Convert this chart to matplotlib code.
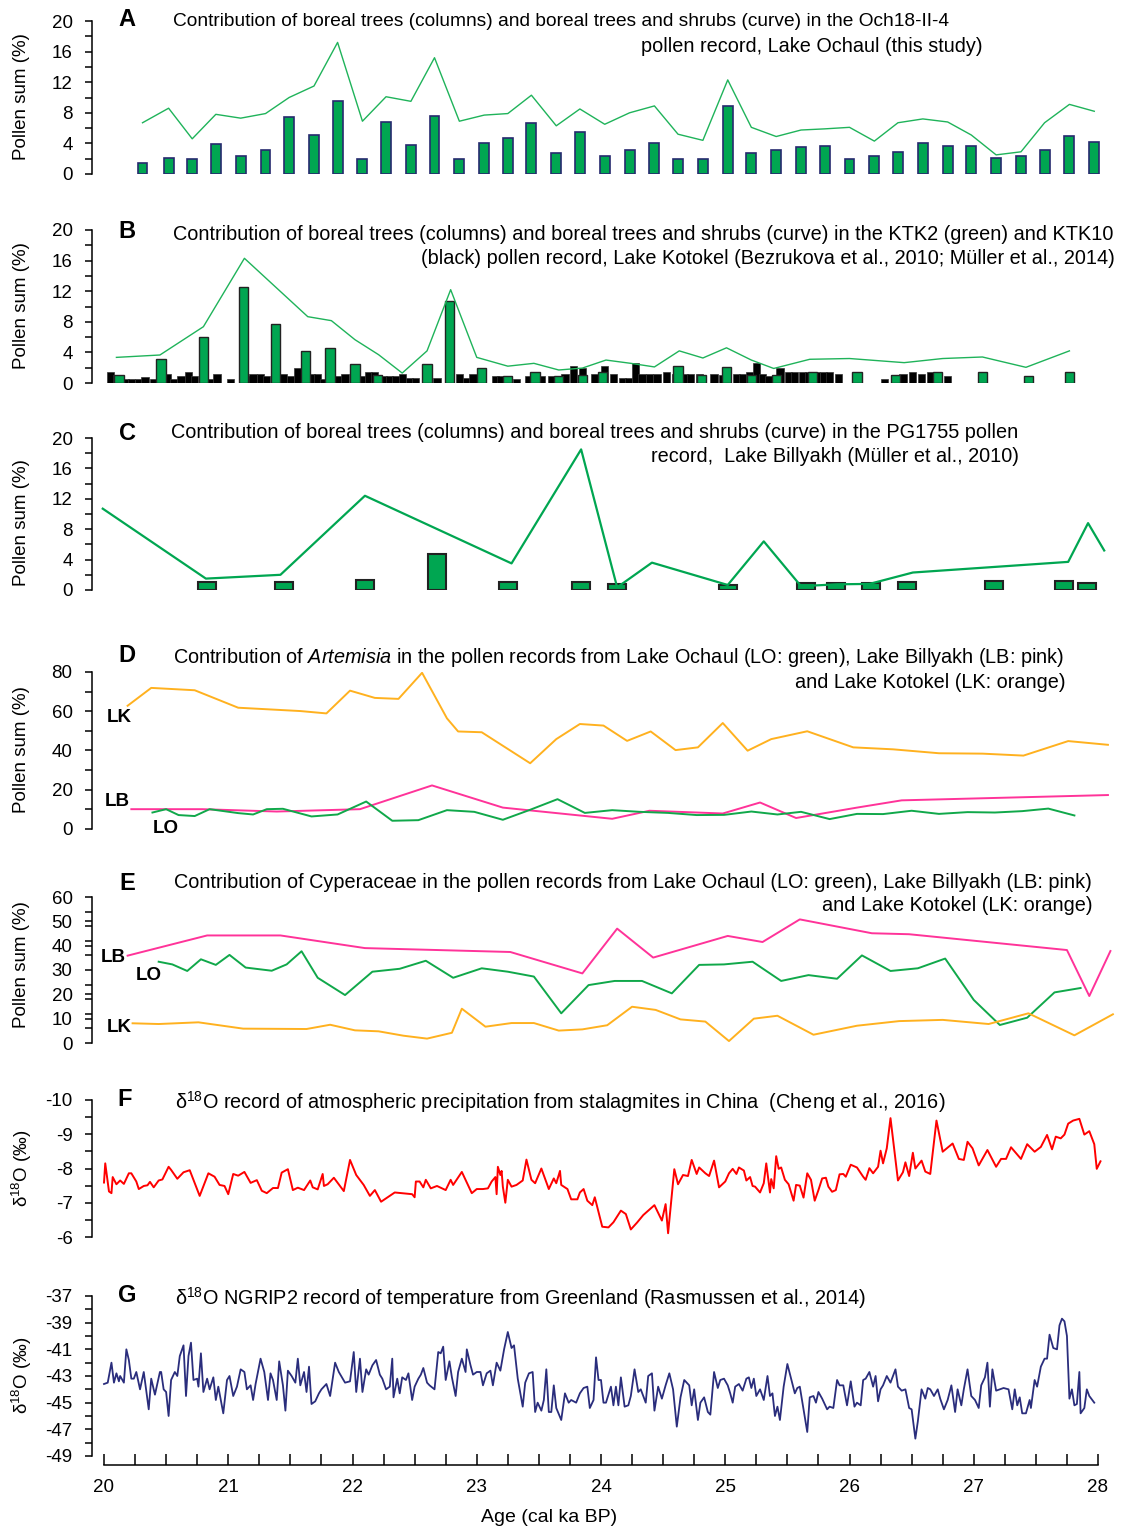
import matplotlib
matplotlib.use("Agg")
import matplotlib.pyplot as plt

plt.rcParams['font.family'] = ['Liberation Sans', 'DejaVu Sans']
plt.rcParams['mathtext.fontset'] = 'custom'
plt.rcParams['mathtext.rm'] = 'Liberation Sans'
plt.rcParams['mathtext.it'] = 'Liberation Sans:italic'
plt.rcParams['mathtext.bf'] = 'Liberation Sans:bold'

# ---- A: Lake Ochaul, Och18-II-4 ----
a_age = [20.31, 20.52, 20.71, 20.90, 21.10, 21.30, 21.49, 21.69, 21.88, 22.08,
         22.27, 22.47, 22.66, 22.86, 23.06, 23.25, 23.44, 23.64, 23.83, 24.03,
         24.23, 24.43, 24.62, 24.82, 25.02, 25.21, 25.41, 25.61, 25.80, 26.00,
         26.20, 26.39, 26.59, 26.79, 26.98, 27.18, 27.38, 27.57, 27.77, 27.97]
a_trees = [1.5, 2.1, 2.0, 3.9, 2.3, 3.1, 7.5, 5.1, 9.5, 1.9,
           6.8, 3.8, 7.6, 1.9, 4.0, 4.7, 6.7, 2.7, 5.5, 2.3,
           3.1, 4.1, 2.0, 2.0, 8.9, 2.7, 3.1, 3.5, 3.7, 1.9,
           2.4, 2.9, 4.1, 3.6, 3.7, 2.1, 2.3, 3.1, 5.0, 4.2]
a_shrubs = [6.7, 8.6, 4.6, 7.8, 7.3, 7.9, 10.0, 11.5, 17.2, 6.9,
            10.1, 9.5, 15.2, 6.9, 7.7, 7.9, 10.3, 6.3, 8.5, 6.5,
            8.0, 8.9, 5.2, 4.4, 12.3, 6.1, 4.9, 5.75, 5.9, 6.1,
            4.3, 6.7, 7.2, 6.8, 5.1, 2.5, 2.9, 6.7, 9.1, 8.2]

# ---- B: Lake Kotokel, KTK2 (green) and KTK10 (black) ----
b_curve_age = [20.10, 20.45, 20.80, 21.13, 21.64, 21.83, 22.02, 22.21, 22.40, 22.60,
               22.79, 23.00, 23.25, 23.46, 23.66, 23.85, 24.04, 24.24, 24.43, 24.63,
               24.82, 25.01, 25.21, 25.39, 25.68, 26.00, 26.44, 26.75, 27.07, 27.42, 27.77]
b_curve = [3.35, 3.66, 7.36, 16.3, 8.67, 8.15, 5.66, 3.7, 1.3, 4.2,
           12.2, 3.35, 2.2, 2.57, 1.7, 1.95, 3.0, 2.57, 2.1, 4.2,
           3.27, 4.6, 3.0, 1.9, 3.1, 3.2, 2.66, 3.2, 3.4, 2.05, 4.2]
b_ktk2_age = [20.12, 20.46, 20.80, 21.12, 21.38, 21.62, 21.82, 22.02, 22.20, 22.60,
              22.78, 23.04, 23.25, 23.47, 23.66, 23.85, 24.01, 24.62, 24.81, 25.01,
              25.21, 25.41, 25.70, 26.06, 26.37, 26.71, 27.07, 27.44, 27.77]
b_ktk2 = [1.05, 3.14, 6.06, 12.6, 7.67, 4.14, 4.58, 2.44, 1.05, 2.44,
          10.7, 2.0, 0.9, 1.48, 0.9, 1.05, 1.48, 2.2, 1.05, 2.14,
          1.05, 1.05, 1.4, 1.4, 1.05, 1.4, 1.4, 0.9, 1.4]
b_ktk10_age = [20.05, 20.10, 20.17, 20.22, 20.28, 20.33, 20.40, 20.45, 20.51, 20.56,
               20.62, 20.68, 20.73, 20.80, 20.85, 20.91, 21.02, 21.15, 21.20, 21.26,
               21.31, 21.44, 21.50, 21.56, 21.67, 21.72, 21.77, 21.89, 21.94, 22.07,
               22.13, 22.18, 22.25, 22.30, 22.35, 22.40, 22.46, 22.51, 22.68, 22.86,
               22.92, 22.97, 23.15, 23.19, 23.32, 23.42, 23.52, 23.60, 23.71, 23.78,
               23.85, 23.95, 24.03, 24.10, 24.17, 24.22, 24.28, 24.33, 24.39, 24.45,
               24.53, 24.60, 24.67, 24.72, 24.79, 24.91, 24.98, 25.09, 25.14, 25.20,
               25.25, 25.30, 25.35, 25.44, 25.51, 25.56, 25.62, 25.67, 25.73, 25.79,
               25.84, 25.91, 26.06, 26.28, 26.36, 26.43, 26.51, 26.58, 26.65, 26.71, 26.79]
b_ktk10 = [1.5, 1.0, 0.5, 0.5, 0.5, 0.8, 0.5, 0.5, 1.2, 0.5,
           0.9, 1.5, 0.9, 0.9, 0.5, 1.2, 0.5, 0.9, 1.2, 1.2,
           0.9, 1.2, 0.9, 1.9, 1.2, 1.2, 0.5, 0.9, 1.2, 0.9,
           1.4, 1.5, 0.9, 0.9, 0.9, 1.2, 0.7, 0.7, 0.7, 1.2,
           0.7, 1.2, 0.9, 0.9, 0.5, 0.9, 0.9, 0.9, 1.2, 2.2,
           1.9, 1.2, 2.2, 1.2, 0.7, 0.7, 2.57, 1.2, 1.2, 1.2,
           1.5, 1.2, 1.2, 1.2, 1.2, 1.2, 1.0, 1.2, 1.2, 1.4,
           2.57, 1.2, 0.9, 1.9, 1.5, 1.5, 1.5, 1.4, 1.4, 1.4,
           1.4, 1.2, 1.2, 0.5, 1.0, 1.2, 1.5, 1.2, 1.5, 1.4, 0.9]

# ---- C: Lake Billyakh, PG1755 ----
c_curve_age = [19.99, 20.82, 21.42, 22.10, 23.28, 23.84, 24.13, 24.41, 25.02,
               25.31, 25.61, 25.90, 26.16, 26.51, 27.76, 27.92, 28.05]
c_curve = [10.7, 1.5, 2.0, 12.4, 3.5, 18.5, 0.35, 3.6, 0.66,
           6.4, 0.5, 0.75, 0.8, 2.3, 3.7, 8.8, 5.2]
c_trees_age = [20.83, 21.45, 22.10, 22.68, 23.25, 23.84, 24.13, 25.02,
               25.65, 25.89, 26.17, 26.46, 27.16, 27.73, 27.91]
c_trees = [1.0, 1.0, 1.3, 4.7, 1.0, 1.0, 0.75, 0.6,
           0.9, 0.9, 0.9, 1.0, 1.2, 1.2, 0.9]

# ---- D: Artemisia ----
d_lk_age = [20.19, 20.38, 20.73, 21.08, 21.58, 21.79, 21.98, 22.18, 22.37, 22.56,
            22.76, 22.85, 23.04, 23.43, 23.64, 23.83, 24.02, 24.21, 24.40, 24.60,
            24.78, 24.98, 25.18, 25.37, 25.66, 26.03, 26.35, 26.72, 27.07, 27.40,
            27.76, 28.08]
d_lk = [62.8, 71.9, 70.7, 61.8, 60.1, 58.9, 70.5, 66.8, 66.3, 79.6,
        56.4, 49.7, 49.3, 33.5, 45.8, 53.5, 52.7, 44.9, 49.7, 40.2,
        41.6, 54.0, 39.9, 45.8, 49.8, 41.6, 40.6, 38.6, 38.4, 37.4,
        44.8, 42.9]
d_lb_age = [20.22, 20.79, 21.39, 22.06, 22.64, 23.21, 24.09, 24.39, 24.98, 25.28,
            25.57, 26.06, 26.42, 28.08]
d_lb = [10.1, 10.1, 8.9, 10.1, 22.2, 10.9, 5.2, 9.3, 7.9, 13.5,
        5.6, 10.9, 14.6, 17.3]
d_lo_age = [20.39, 20.50, 20.60, 20.73, 20.85, 21.08, 21.20, 21.31, 21.44, 21.67,
            21.88, 22.11, 22.32, 22.53, 22.76, 22.98, 23.21, 23.43, 23.65, 23.87,
            24.09, 24.31, 24.54, 24.77, 24.99, 25.21, 25.42, 25.61, 25.84, 26.06,
            26.27, 26.50, 26.72, 26.95, 27.17, 27.39, 27.60, 27.81]
d_lo = [8.4, 10.1, 7.1, 6.6, 10.1, 8.1, 7.4, 10.1, 10.3, 6.4,
        7.4, 14.0, 4.2, 4.5, 9.6, 8.75, 4.7, 9.8, 15.2, 8.2,
        9.6, 8.75, 8.2, 7.1, 7.2, 8.9, 7.4, 8.75, 5.05, 7.7,
        7.6, 9.3, 7.7, 8.6, 8.4, 9.1, 10.4, 6.9]

# ---- E: Cyperaceae ----
e_lb_age = [20.19, 20.83, 21.42, 22.10, 23.27, 23.85, 24.13, 24.42, 25.02, 25.30,
            25.60, 26.18, 26.48, 27.75, 27.93, 28.10]
e_lb = [35.9, 44.2, 44.2, 39.0, 37.4, 28.6, 47.0, 35.1, 44.0, 41.5,
        50.8, 45.1, 44.7, 38.2, 19.3, 37.8]
e_lo_age = [20.44, 20.55, 20.67, 20.78, 20.90, 21.01, 21.14, 21.35, 21.47, 21.59,
            21.72, 21.94, 22.16, 22.38, 22.59, 22.81, 23.04, 23.25, 23.46, 23.68,
            23.90, 24.11, 24.33, 24.57, 24.79, 24.99, 25.22, 25.45, 25.67, 25.90,
            26.10, 26.33, 26.55, 26.77, 27.00, 27.21, 27.43, 27.65, 27.86]
e_lo = [33.4, 32.3, 29.6, 34.4, 32.1, 36.2, 31.0, 29.7, 32.3, 37.7,
        26.8, 19.7, 29.3, 30.5, 33.8, 26.8, 30.7, 29.3, 27.3, 12.2,
        23.8, 25.5, 25.5, 20.4, 32.1, 32.3, 33.4, 25.5, 27.9, 26.4,
        36.0, 29.6, 30.7, 34.7, 17.7, 7.4, 10.4, 20.8, 22.6]
e_lk_age = [20.23, 20.44, 20.76, 21.12, 21.63, 21.82, 22.02, 22.21, 22.41, 22.60,
            22.80, 22.88, 23.07, 23.28, 23.46, 23.66, 23.85, 24.05, 24.25, 24.44,
            24.64, 24.84, 25.03, 25.23, 25.42, 25.71, 26.06, 26.40, 26.75, 27.12,
            27.44, 27.81, 28.12]
e_lk = [8.1, 7.8, 8.5, 5.9, 5.75, 7.5, 5.2, 4.8, 3.0, 1.8,
        4.2, 14.1, 6.7, 8.2, 8.2, 5.1, 5.6, 7.3, 14.9, 13.6,
        9.7, 8.8, 0.8, 10.0, 11.2, 3.4, 7.1, 9.0, 9.5, 7.8,
        12.2, 3.15, 11.8]

# ---- F: China stalagmites d18O ----
f_age = [20.00, 20.01, 20.04, 20.06, 20.07, 20.10, 20.13, 20.16, 20.20, 20.22,
         20.26, 20.28, 20.32, 20.35, 20.37, 20.40, 20.44, 20.47, 20.52, 20.54,
         20.59, 20.64, 20.69, 20.77, 20.84, 20.89, 20.93, 20.97, 21.00, 21.04,
         21.08, 21.13, 21.18, 21.23, 21.27, 21.31, 21.36, 21.40, 21.43, 21.48,
         21.52, 21.56, 21.61, 21.66, 21.68, 21.72, 21.76, 21.77, 21.80, 21.85,
         21.93, 21.98, 22.03, 22.09, 22.14, 22.18, 22.23, 22.34, 22.48, 22.50,
         22.51, 22.54, 22.57, 22.59, 22.63, 22.68, 22.75, 22.79, 22.81, 22.88,
         22.96, 23.00, 23.05, 23.09, 23.12, 23.15, 23.16, 23.17, 23.19, 23.20,
         23.21, 23.23, 23.25, 23.28, 23.32, 23.37, 23.40, 23.44, 23.47, 23.52,
         23.58, 23.62, 23.64, 23.67, 23.68, 23.73, 23.76, 23.81, 23.83, 23.86,
         23.89, 23.93, 23.95, 24.01, 24.06, 24.10, 24.16, 24.20, 24.24, 24.29,
         24.34, 24.43, 24.49, 24.52, 24.54, 24.59, 24.62, 24.66, 24.70, 24.73,
         24.77, 24.79, 24.84, 24.87, 24.91, 24.95, 25.00, 25.03, 25.06, 25.09,
         25.11, 25.15, 25.17, 25.20, 25.22, 25.24, 25.28, 25.31, 25.33, 25.36,
         25.37, 25.39, 25.41, 25.43, 25.45, 25.48, 25.51, 25.55, 25.57, 25.60,
         25.63, 25.66, 25.69, 25.72, 25.75, 25.78, 25.81, 25.83, 25.86, 25.89,
         25.92, 25.95, 25.97, 26.01, 26.06, 26.11, 26.13, 26.16, 26.19, 26.23,
         26.25, 26.27, 26.30, 26.33, 26.37, 26.39, 26.43, 26.45, 26.48, 26.51,
         26.53, 26.58, 26.61, 26.65, 26.70, 26.75, 26.83, 26.88, 26.92, 26.95,
         26.99, 27.04, 27.11, 27.18, 27.22, 27.26, 27.30, 27.38, 27.43, 27.49,
         27.54, 27.59, 27.63, 27.66, 27.70, 27.73, 27.76, 27.80, 27.85, 27.89,
         27.93, 27.97, 27.99, 28.02]
f_d18o = [-7.59, -8.15, -7.33, -7.28, -7.75, -7.54, -7.65, -7.55, -7.86, -7.86,
          -7.62, -7.40, -7.49, -7.51, -7.61, -7.45, -7.65, -7.68, -8.05, -7.96,
          -7.70, -7.89, -7.95, -7.20, -7.86, -7.76, -7.52, -7.49, -7.25, -7.84,
          -7.79, -7.90, -7.58, -7.66, -7.35, -7.28, -7.43, -7.43, -7.88, -7.98,
          -7.37, -7.44, -7.37, -7.65, -7.45, -7.39, -7.84, -7.49, -7.54, -7.73,
          -7.34, -8.25, -7.81, -7.52, -7.20, -7.37, -7.03, -7.30, -7.25, -7.16,
          -7.62, -7.62, -7.45, -7.67, -7.42, -7.49, -7.37, -7.67, -7.52, -7.90,
          -7.28, -7.40, -7.40, -7.42, -7.62, -7.75, -7.25, -8.05, -7.81, -7.93,
          -7.47, -7.00, -7.67, -7.47, -7.52, -7.65, -8.26, -7.67, -7.57, -8.00,
          -7.40, -7.71, -7.57, -7.93, -7.52, -7.40, -7.10, -7.10, -7.30, -7.40,
          -7.06, -6.93, -7.16, -6.30, -6.28, -6.43, -6.77, -6.67, -6.22, -6.42,
          -6.64, -6.93, -6.48, -6.96, -6.11, -7.98, -7.54, -7.81, -7.78, -8.25,
          -7.84, -8.03, -7.86, -7.78, -8.23, -7.45, -7.62, -7.86, -7.99, -7.84,
          -8.03, -7.94, -7.65, -7.75, -7.49, -7.47, -7.30, -7.57, -8.15, -7.30,
          -7.69, -7.42, -8.36, -7.99, -8.03, -7.67, -7.54, -7.06, -7.52, -7.50,
          -7.15, -7.86, -7.67, -7.06, -7.37, -7.71, -7.73, -7.47, -7.32, -7.37,
          -7.83, -7.84, -7.76, -8.11, -8.03, -7.76, -7.67, -8.01, -7.86, -8.05,
          -8.52, -8.15, -8.59, -9.47, -8.25, -7.65, -7.89, -8.18, -7.78, -8.46,
          -8.00, -8.23, -7.91, -7.84, -9.40, -8.49, -8.73, -8.28, -8.25, -8.78,
          -8.59, -8.09, -8.54, -8.05, -8.28, -8.28, -8.62, -8.28, -8.71, -8.49,
          -8.63, -8.98, -8.56, -8.93, -8.88, -8.99, -9.31, -9.40, -9.45, -8.99,
          -9.09, -8.71, -7.99, -8.21]

# ---- G: NGRIP2 d18O ----
g_age = [20.00, 20.03, 20.06, 20.08, 20.10, 20.12, 20.13, 20.16, 20.18, 20.20,
         20.22, 20.24, 20.26, 20.29, 20.32, 20.36, 20.38, 20.41, 20.45, 20.46,
         20.48, 20.50, 20.52, 20.54, 20.57, 20.59, 20.61, 20.64, 20.66, 20.68,
         20.70, 20.72, 20.75, 20.76, 20.78, 20.80, 20.83, 20.85, 20.88, 20.90,
         20.92, 20.96, 20.99, 21.01, 21.04, 21.07, 21.10, 21.13, 21.15, 21.18,
         21.20, 21.22, 21.26, 21.29, 21.32, 21.34, 21.36, 21.39, 21.41, 21.44,
         21.46, 21.48, 21.51, 21.54, 21.56, 21.58, 21.61, 21.63, 21.65, 21.67,
         21.70, 21.73, 21.75, 21.79, 21.82, 21.86, 21.89, 21.94, 21.98, 22.01,
         22.03, 22.06, 22.08, 22.11, 22.13, 22.16, 22.19, 22.22, 22.24, 22.27,
         22.30, 22.32, 22.33, 22.36, 22.38, 22.40, 22.43, 22.45, 22.48, 22.50,
         22.53, 22.55, 22.57, 22.60, 22.62, 22.66, 22.69, 22.71, 22.73, 22.75,
         22.78, 22.80, 22.83, 22.85, 22.88, 22.91, 22.92, 22.95, 22.97, 23.00,
         23.03, 23.05, 23.08, 23.11, 23.13, 23.16, 23.19, 23.22, 23.25, 23.28,
         23.30, 23.33, 23.37, 23.39, 23.42, 23.45, 23.47, 23.49, 23.52, 23.54,
         23.56, 23.58, 23.60, 23.62, 23.64, 23.68, 23.71, 23.74, 23.76, 23.80,
         23.83, 23.86, 23.89, 23.91, 23.94, 23.96, 23.98, 24.00, 24.02, 24.04,
         24.08, 24.10, 24.12, 24.14, 24.16, 24.19, 24.22, 24.24, 24.27, 24.30,
         24.32, 24.36, 24.38, 24.41, 24.43, 24.46, 24.49, 24.52, 24.55, 24.58,
         24.61, 24.64, 24.67, 24.71, 24.73, 24.75, 24.78, 24.80, 24.83, 24.86,
         24.88, 24.91, 24.94, 24.96, 24.99, 25.02, 25.04, 25.06, 25.08, 25.11,
         25.14, 25.17, 25.19, 25.21, 25.23, 25.25, 25.28, 25.31, 25.34, 25.36,
         25.38, 25.40, 25.42, 25.44, 25.47, 25.50, 25.53, 25.56, 25.58, 25.60,
         25.63, 25.66, 25.68, 25.71, 25.73, 25.75, 25.78, 25.82, 25.84, 25.87,
         25.90, 25.92, 25.95, 25.98, 26.01, 26.04, 26.06, 26.09, 26.11, 26.13,
         26.16, 26.19, 26.21, 26.23, 26.25, 26.27, 26.30, 26.33, 26.37, 26.39,
         26.42, 26.45, 26.48, 26.50, 26.53, 26.55, 26.58, 26.61, 26.63, 26.65,
         26.68, 26.71, 26.73, 26.76, 26.79, 26.82, 26.85, 26.87, 26.90, 26.92,
         26.95, 26.98, 27.01, 27.04, 27.06, 27.09, 27.11, 27.13, 27.15, 27.18,
         27.21, 27.24, 27.28, 27.31, 27.33, 27.35, 27.37, 27.39, 27.42, 27.45,
         27.46, 27.49, 27.51, 27.54, 27.57, 27.59, 27.61, 27.64, 27.67, 27.69,
         27.71, 27.73, 27.75, 27.77, 27.79, 27.81, 27.83, 27.85, 27.86, 27.89,
         27.91, 27.93, 27.97]
g_d18o = [-43.6, -43.5, -42.0, -43.5, -42.8, -43.4, -43.0, -43.5, -41.0, -41.8,
          -43.2, -43.2, -42.7, -44.0, -42.7, -45.5, -43.2, -44.4, -42.7, -42.7,
          -44.0, -44.2, -46.0, -43.3, -42.7, -43.0, -41.5, -40.7, -44.5, -41.5,
          -40.5, -43.3, -43.2, -43.8, -41.3, -44.2, -43.2, -44.0, -43.1, -44.8,
          -43.8, -45.8, -43.3, -43.0, -44.5, -43.8, -42.5, -42.7, -44.0, -43.7,
          -44.8, -43.6, -41.7, -42.7, -44.8, -42.8, -43.3, -44.8, -41.9, -43.7,
          -45.6, -42.6, -43.0, -43.5, -41.7, -43.7, -42.7, -44.2, -42.3, -45.1,
          -44.9, -44.3, -44.0, -43.6, -44.5, -42.0, -42.7, -43.5, -43.4, -41.2,
          -44.2, -41.7, -44.2, -42.5, -42.9, -42.2, -41.8, -42.9, -43.2, -44.0,
          -43.8, -41.7, -44.6, -43.2, -44.3, -43.1, -43.3, -42.8, -44.8, -43.8,
          -43.2, -42.9, -42.4, -43.5, -43.7, -44.0, -41.2, -41.3, -40.8, -43.3,
          -41.9, -43.1, -44.5, -42.7, -41.7, -42.7, -41.0, -42.2, -42.9, -42.7,
          -42.7, -43.7, -42.8, -42.6, -43.7, -42.0, -42.6, -41.0, -39.7, -40.9,
          -40.7, -43.2, -45.3, -43.5, -42.8, -42.7, -45.7, -45.0, -45.6, -44.8,
          -42.5, -45.7, -45.7, -43.7, -45.4, -46.3, -44.3, -45.0, -44.8, -45.0,
          -44.3, -43.9, -43.8, -45.4, -44.8, -41.6, -43.3, -43.3, -45.0, -45.0,
          -43.8, -45.2, -43.8, -45.2, -43.1, -45.3, -45.2, -44.5, -42.5, -44.2,
          -44.0, -45.0, -43.0, -42.8, -45.6, -43.8, -44.7, -43.7, -42.8, -44.0,
          -46.8, -44.6, -43.3, -43.7, -45.2, -44.0, -46.3, -45.0, -44.6, -45.7,
          -45.9, -42.7, -43.9, -43.3, -43.2, -43.7, -44.3, -45.0, -43.8, -43.6,
          -44.1, -43.2, -43.1, -43.9, -43.2, -44.5, -44.0, -44.8, -43.0, -44.5,
          -44.3, -46.0, -45.3, -46.3, -43.8, -42.1, -43.2, -44.3, -43.9, -43.8,
          -45.5, -47.2, -44.6, -44.5, -45.0, -44.2, -44.7, -45.5, -45.3, -45.4,
          -43.3, -43.7, -43.7, -45.2, -43.4, -45.3, -45.0, -45.2, -43.3, -43.2,
          -42.7, -43.8, -43.0, -44.9, -44.0, -43.7, -43.0, -43.5, -42.5, -43.8,
          -44.1, -44.0, -45.4, -45.5, -47.7, -46.4, -44.0, -44.7, -43.9, -44.0,
          -44.5, -44.0, -44.7, -45.5, -44.8, -43.7, -45.7, -44.0, -45.2, -44.0,
          -42.5, -44.5, -44.8, -45.4, -43.7, -43.1, -42.0, -45.3, -42.5, -44.1,
          -44.0, -43.9, -44.0, -45.5, -44.0, -45.2, -44.6, -45.8, -45.8, -44.8,
          -45.4, -43.3, -43.8, -42.3, -41.7, -41.7, -39.9, -40.9, -41.0, -39.2,
          -38.7, -38.9, -40.0, -44.7, -44.0, -45.2, -45.1, -42.7, -45.8, -45.4,
          -44.0, -44.5, -45.0]

AGE_TICKS = [20, 21, 22, 23, 24, 25, 26, 27, 28]

GREEN = '#00a651'
CURVE_GREEN = '#1fb35a'
ORANGE = '#ffb11f'
PINK = '#ff3399'
LO_GREEN = '#10a84a'
TITLE_SIZE = 14.3

W, H = 1121, 1528
fig = plt.figure(figsize=(W / 100, H / 100), dpi=100)

AGE0_PX, PX_PER_KA = 104, 124.25
LEFT_PX, RIGHT_PX = 92, 1120


def px_age(px):
    return 20 + (px - AGE0_PX) / PX_PER_KA


def fx(px):
    return px / W


def fy(py):
    return 1 - py / H


def panel(top_px, bot_px, v_top, v_bot, major, minor, box_bot_px=None):
    if box_bot_px is None:
        box_bot_px = bot_px
    v_box_bot = v_bot + (v_bot - v_top) * (box_bot_px - bot_px) / (bot_px - top_px)
    ax = fig.add_axes([fx(LEFT_PX), fy(box_bot_px), (RIGHT_PX - LEFT_PX) / W,
                       (box_bot_px - top_px) / H])
    ax.set_xlim(px_age(LEFT_PX), px_age(RIGHT_PX))
    ax.set_ylim(v_box_bot, v_top)
    ax.patch.set_visible(False)
    for s in ('top', 'right', 'bottom'):
        ax.spines[s].set_visible(False)
    ax.spines['left'].set_bounds(min(v_top, v_bot), max(v_top, v_bot))
    ax.spines['left'].set_linewidth(1.1)
    ax.set_yticks(major)
    ax.set_yticklabels([str(m) for m in major])
    ax.set_yticks(minor, minor=True)
    ax.tick_params(axis='y', which='both', direction='out', length=5, width=1.1,
                   labelsize=13.5, pad=9)
    ax.set_xticks([])
    return ax


def title(y_px, line1, line2=None, right_px=None, x_px=173, size1=TITLE_SIZE):
    fig.text(fx(x_px), fy(y_px), line1, fontsize=size1, ha='left', va='center')
    if line2:
        fig.text(fx(right_px), fy(y_px + 24), line2, fontsize=TITLE_SIZE, ha='right', va='center')


def letter(x_px, y_px, s):
    fig.text(fx(x_px), fy(y_px), s, fontsize=17, fontweight='bold', ha='center', va='center')


def ylabel(y_px, s):
    fig.text(fx(22), fy(y_px), s, fontsize=13.5, rotation=90, ha='center', va='center')


# A
ax = panel(21, 174, 20, 0, [0, 4, 8, 12, 16, 20], list(range(0, 21, 2)))
ax.bar(a_age, a_trees, width=0.08, color=GREEN, edgecolor='#262a6e',
       linewidth=1.2, zorder=2)
ax.plot(a_age, a_shrubs, color=CURVE_GREEN, lw=1.0, zorder=3)
letter(127, 20, 'A')
title(22, 'Contribution of boreal trees (columns) and boreal trees and shrubs (curve) in the Och18-II-4',
      'pollen record, Lake Ochaul (this study)', 983, size1=13.8)
ylabel(97, 'Pollen sum (%)')

# B
ax = panel(230, 383, 20, 0, [0, 4, 8, 12, 16, 20], list(range(0, 21, 2)))
ax.bar(b_ktk10_age, b_ktk10, width=0.058, color='black', edgecolor='#333333',
       linewidth=0.5, zorder=2)
ax.bar(b_ktk2_age, b_ktk2, width=0.075, color=GREEN, edgecolor='#222222',
       linewidth=1.0, zorder=3)
ax.plot(b_curve_age, b_curve, color=CURVE_GREEN, lw=1.0, zorder=4)
letter(127, 232, 'B')
title(235, 'Contribution of boreal trees (columns) and boreal trees and shrubs (curve) in the KTK2 (green) and KTK10',
      '(black) pollen record, Lake Kotokel (Bezrukova et al., 2010; Müller et al., 2014)', 1115)
ylabel(306, 'Pollen sum (%)')

# C
ax = panel(438, 590, 20, 0, [0, 4, 8, 12, 16, 20], list(range(0, 21, 2)))
ax.bar(c_trees_age, c_trees, width=0.145, color=GREEN, edgecolor='#222222',
       linewidth=1.5, zorder=2)
ax.plot(c_curve_age, c_curve, color=GREEN, lw=1.6, zorder=3)
letter(127, 434, 'C')
title(433, 'Contribution of boreal trees (columns) and boreal trees and shrubs (curve) in the PG1755 pollen',
      'record,  Lake Billyakh (Müller et al., 2010)', 1019, x_px=171)
ylabel(523, 'Pollen sum (%)')

# D
ax = panel(672, 829, 80, 0, [0, 20, 40, 60, 80], list(range(0, 81, 10)))
ax.plot(d_lk_age, d_lk, color=ORANGE, lw=1.4)
ax.plot(d_lb_age, d_lb, color=PINK, lw=1.4)
ax.plot(d_lo_age, d_lo, color=LO_GREEN, lw=1.4)
letter(127, 655, 'D')
title(658, r'Contribution of $\it{Artemisia}$ in the pollen records from Lake Ochaul (LO: green), Lake Billyakh (LB: pink)',
      'and Lake Kotokel (LK: orange)', 1066)
ylabel(750, 'Pollen sum (%)')
for x_px, y_px, s in [(119, 718, 'LK'), (117, 801, 'LB'), (166, 829, 'LO')]:
    fig.text(fx(x_px), fy(y_px), s, fontsize=13.5, fontweight='bold', ha='center', va='center')

# E
ax = panel(897, 1043, 60, 0, [0, 10, 20, 30, 40, 50, 60], list(range(0, 61, 6)))
ax.plot(e_lb_age, e_lb, color=PINK, lw=1.4)
ax.plot(e_lo_age, e_lo, color=LO_GREEN, lw=1.4)
ax.plot(e_lk_age, e_lk, color=ORANGE, lw=1.4)
letter(127, 883, 'E')
title(882, 'Contribution of Cyperaceae in the pollen records from Lake Ochaul (LO: green), Lake Billyakh (LB: pink)',
      'and Lake Kotokel (LK: orange)', 1093, x_px=174)
ylabel(965, 'Pollen sum (%)')
for x_px, y_px, s in [(113, 958, 'LB'), (149, 976, 'LO'), (119, 1027, 'LK')]:
    fig.text(fx(x_px), fy(y_px), s, fontsize=13.5, fontweight='bold', ha='center', va='center')

# F
ax = panel(1100, 1237, -10, -6, [-10, -9, -8, -7, -6],
           [-10, -9.5, -9, -8.5, -8, -7.5, -7, -6.5, -6])
ax.plot(f_age, f_d18o, color='#ff0000', lw=1.4)
letter(125, 1099, 'F')
title(1102, r'δ$^{18}$O record of atmospheric precipitation from stalagmites in China  (Cheng et al., 2016)',
      x_px=175)
ylabel(1168, r'δ$^{18}$O (‰)')

# G
ax = panel(1296, 1456, -37, -49, list(range(-37, -50, -2)), list(range(-37, -50, -1)),
           box_bot_px=1465)
ax.plot(g_age, g_d18o, color='#2a2d7c', lw=1.3)
letter(127, 1296, 'G')
title(1298, r'δ$^{18}$O NGRIP2 record of temperature from Greenland (Rasmussen et al., 2014)', x_px=175)
ylabel(1375, r'δ$^{18}$O (‰)')
ax.spines['bottom'].set_visible(True)
ax.spines['bottom'].set_bounds(20, 28)
ax.spines['bottom'].set_linewidth(1.1)
ax.set_xticks(AGE_TICKS)
ax.set_xticklabels([str(t) for t in AGE_TICKS])
ax.set_xticks([20 + 0.25 * i for i in range(33)], minor=True)
ax.tick_params(axis='x', which='both', direction='in', length=8, width=1.1,
               labelsize=13.5, pad=10)
fig.text(fx(549), fy(1517), 'Age (cal ka BP)', fontsize=14, ha='center', va='center')

fig.savefig('out.png', dpi=100)
